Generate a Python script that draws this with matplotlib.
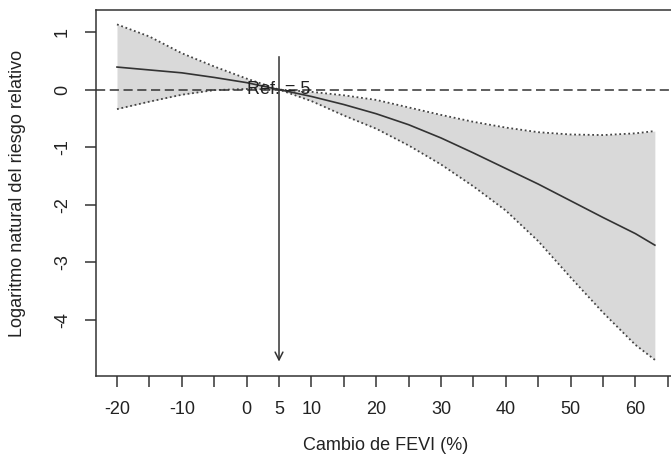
import matplotlib
matplotlib.use("Agg")
import matplotlib.pyplot as plt

plt.rcParams["font.family"] = ["Liberation Sans", "DejaVu Sans"]

# datos
cambio_fevi = [-20, -15, -10, -5, 0, 5, 10, 15, 20, 25, 30, 35, 40, 45, 50, 55, 60, 63]
log_rr = [0.39, 0.34, 0.29, 0.21, 0.12, 0.0, -0.12, -0.26, -0.42, -0.61, -0.84, -1.1,
          -1.37, -1.64, -1.93, -2.22, -2.5, -2.7]
ic_sup = [1.13, 0.92, 0.63, 0.4, 0.19, 0.0, -0.04, -0.1, -0.18, -0.31, -0.44, -0.56,
          -0.66, -0.74, -0.78, -0.79, -0.76, -0.72]
ic_inf = [-0.34, -0.21, -0.09, -0.01, 0.01, 0.0, -0.2, -0.45, -0.68, -0.97, -1.3, -1.68,
          -2.1, -2.63, -3.26, -3.87, -4.43, -4.69]

ref = 5
x_ticks = list(range(-20, 66, 5))
x_labels = ["-20", "", "-10", "", "0", "5", "10", "", "20", "", "30", "", "40", "",
            "50", "", "60", ""]
y_ticks = [-4, -3, -2, -1, 0, 1]

W, H = 671, 463
fig = plt.figure(figsize=(W / 100, H / 100), dpi=100)
ax = fig.add_axes([96 / W, (H - 376) / H, (W - 96) / W, (376 - 10) / H])

ax.fill_between(cambio_fevi, ic_inf, ic_sup, color="#d9d9d9", lw=0)
ax.plot(cambio_fevi, ic_sup, color="#444444", lw=1.3, ls=(0, (1, 1.5)))
ax.plot(cambio_fevi, ic_inf, color="#444444", lw=1.3, ls=(0, (1, 1.5)))
ax.plot(cambio_fevi, log_rr, color="#333333", lw=1.2)

ax.axhline(0, color="#333333", lw=1.1, ls=(0, (6, 3)))
ax.annotate("", xy=(ref, -4.72), xytext=(ref, 0.57),
            arrowprops=dict(arrowstyle="->", color="#333333", lw=1.1,
                            shrinkA=0, shrinkB=0, mutation_scale=14))
ax.text(ref, 0.0, "Ref. = 5", ha="center", va="center", fontsize=13, color="#222222")

ax.set_xlim(-23.24, 65.49)
ax.set_ylim(-4.97, 1.38)
ax.set_xticks(x_ticks)
ax.set_xticklabels(x_labels)
ax.set_yticks(y_ticks)
ax.set_yticklabels([str(v) for v in y_ticks], rotation=90, va="center")

for s in ["left", "bottom", "top"]:
    ax.spines[s].set_color("#333333")
    ax.spines[s].set_linewidth(1.1)
ax.spines["right"].set_visible(False)
ax.tick_params(axis="both", length=8, width=1.1, color="#333333", labelsize=13,
               labelcolor="#222222")
ax.tick_params(axis="x", pad=10)
ax.tick_params(axis="y", pad=10)

fig.text(386 / W, 1 - 445 / H, "Cambio de FEVI (%)", ha="center", va="center",
         fontsize=13, color="#222222")
fig.text(18 / W, 1 - 193 / H, "Logaritmo natural del riesgo relativo", ha="center",
         va="center", rotation=90, fontsize=13, color="#222222")

fig.savefig("out.png", dpi=100)
